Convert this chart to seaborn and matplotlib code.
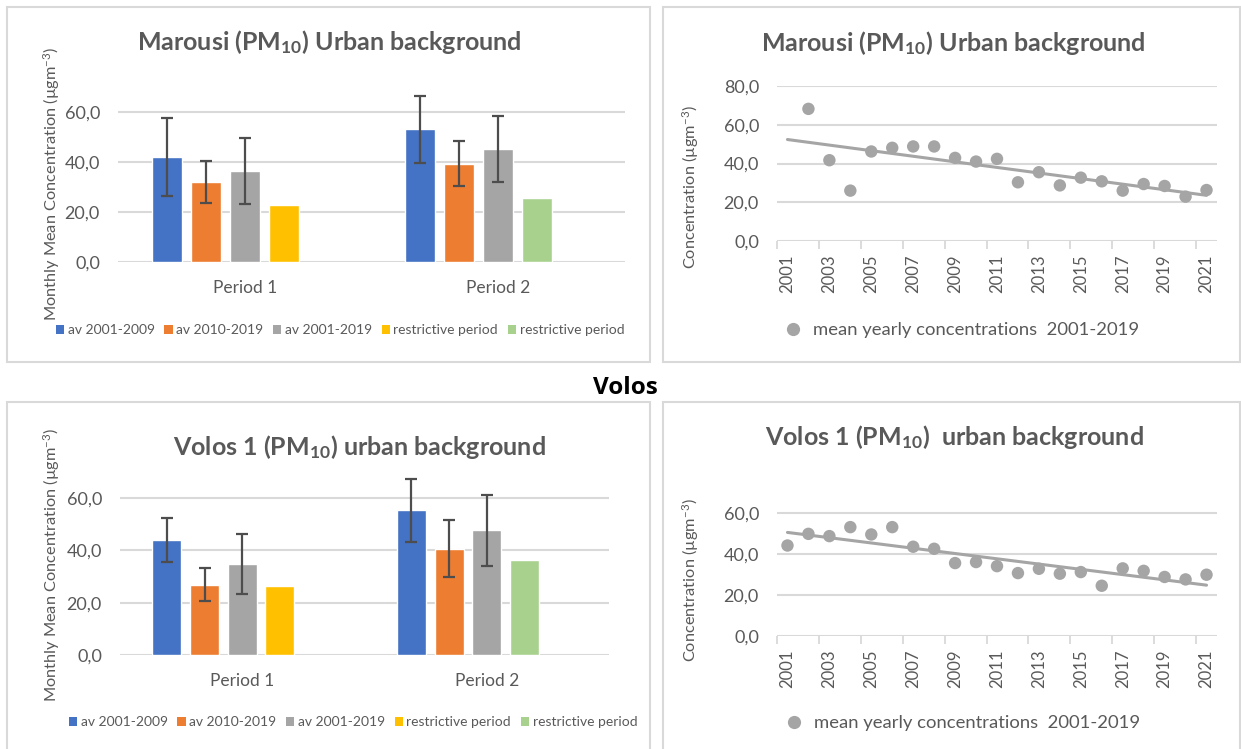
import numpy as np
import pandas as pd
import seaborn as sns
import matplotlib.pyplot as plt
from matplotlib.patches import Rectangle, Patch
from matplotlib.lines import Line2D

# bar charts: monthly means per period
periods = ["Period 1", "Period 2"]
bar_series = ["av 2001-2009", "av 2010-2019", "av 2001-2019", "restrictive period"]
legend_labels = ["av 2001-2009", "av 2010-2019", "av 2001-2019", "restrictive period", "restrictive period"]

marousi_p1 = [42.1, 32.1, 36.5, 22.9]
marousi_p2 = [53.1, 39.4, 45.2, 25.8]
marousi_sd_p1 = [15.5, 8.5, 13.1]
marousi_sd_p2 = [13.3, 9.1, 13.1]

volos_p1 = [43.9, 26.9, 34.8, 26.4]
volos_p2 = [55.3, 40.6, 47.7, 36.5]
volos_sd_p1 = [8.5, 6.3, 11.5]
volos_sd_p2 = [12.0, 10.9, 13.6]

# scatter charts: mean yearly concentrations
years = list(range(2001, 2022))
marousi_yearly = [np.nan, 68.2, 41.7, 26.0, 46.2, 48.1, 48.8, 48.8, 42.9, 41.0, 42.4,
                  30.3, 35.5, 28.7, 32.7, 30.8, 26.0, 29.4, 28.4, 22.9, 26.3]
volos_yearly = [44.3, 50.0, 48.9, 53.3, 49.7, 53.3, 43.7, 42.7, 35.7, 36.2, 34.2,
                30.8, 32.9, 30.5, 31.3, 24.6, 33.1, 31.9, 28.9, 27.7, 30.0]

BLUE, ORANGE, GRAY, YELLOW, GREEN = "#4472C4", "#ED7D31", "#A5A5A5", "#FFC000", "#A9D18E"
TEXT, GRID, ERR = "#595959", "#D9D9D9", "#4D4D4D"

sns.set_theme(style="white")
plt.rcParams["font.family"] = ["Lato", "DejaVu Sans"]
plt.rcParams["mathtext.fontset"] = "custom"
plt.rcParams["mathtext.rm"] = "Lato"
plt.rcParams["mathtext.it"] = "Lato:italic"
plt.rcParams["mathtext.bf"] = "Lato:bold"
plt.rcParams["mathtext.default"] = "regular"

W, H = 1241, 749
fig = plt.figure(figsize=(W / 100, H / 100), dpi=100)
fig.patch.set_facecolor("white")


def rect(l, t, r, b):
    return [l / W, 1 - b / H, (r - l) / W, (b - t) / H]


def ftext(x, y, s, **kw):
    fig.text(x / W, 1 - y / H, s, ha="center", va="center", **kw)


def fmt(v):
    return f"{v:.1f}".replace(".", ",")


# panel frames
for l, t, r, b in [(7, 7, 650, 362), (663, 7, 1240, 362), (7, 402, 650, 770), (663, 402, 1240, 770)]:
    fig.add_artist(Rectangle((l / W, 1 - b / H), (r - l) / W, (b - t) / H, transform=fig.transFigure,
                             fill=False, edgecolor=GRID, lw=1.5))


def bar_panel(box, title, title_xy, ylab_xy, leg_xy, p1, p2, sd1, sd2):
    ax = fig.add_axes(rect(*box))
    df = pd.DataFrame({"period": [periods[0]] * 4 + [periods[1]] * 4,
                       "series": bar_series * 2,
                       "value": p1 + p2})
    sns.barplot(data=df, x="period", y="value", hue="series", hue_order=bar_series + ["gap"],
                palette=[BLUE, ORANGE, GRAY, YELLOW, "white"], width=0.77, gap=0.23,
                saturation=1, errorbar=None, legend=False, ax=ax)
    # second restrictive period is drawn green
    restr = sorted(ax.containers[3], key=lambda p: p.get_x())
    restr[1].set_facecolor(GREEN)
    for i in range(3):
        for j, bar in enumerate(sorted(ax.containers[i], key=lambda p: p.get_x())):
            sd = [sd1, sd2][j][i]
            ax.errorbar(bar.get_x() + bar.get_width() / 2, bar.get_height(), yerr=sd, fmt="none",
                        ecolor=ERR, elinewidth=1.6, capsize=4.5, capthick=1.6, zorder=4)
    ax.set_xlim(-0.5, 1.5)
    ax.set_ylim(0, 70)
    ax.set_yticks([0, 20, 40, 60])
    ax.set_yticklabels([fmt(v) for v in [0, 20, 40, 60]])
    ax.yaxis.grid(True, color=GRID, lw=1.5)
    ax.set_axisbelow(True)
    sns.despine(ax=ax, left=True, bottom=True)
    ax.tick_params(axis="y", length=0, labelsize=13, labelcolor=TEXT, pad=13)
    ax.tick_params(axis="x", length=0, labelsize=12.5, labelcolor=TEXT, pad=13)
    ax.set_xlabel("")
    ax.set_ylabel("")
    ftext(*title_xy, title, fontsize=18, fontweight="bold", color=TEXT)
    ftext(*ylab_xy, "Monthly Mean Concentration (µgm$^{-3}$)", fontsize=11.8, color=TEXT, rotation=90)
    handles = [Patch(facecolor=c, edgecolor="none") for c in [BLUE, ORANGE, GRAY, YELLOW, GREEN]]
    fig.legend(handles, legend_labels, loc="center", bbox_to_anchor=(leg_xy[0] / W, 1 - leg_xy[1] / H),
               ncol=5, frameon=False, fontsize=10, labelcolor=TEXT, handlelength=0.6, handleheight=0.6,
               handletextpad=0.25, columnspacing=0.7)
    return ax


def trend_panel(box, ymax, yticks, title, title_xy, ylab_xy, leg_xy, values):
    ax = fig.add_axes(rect(*box))
    df = pd.DataFrame({"year": years, "value": values})
    valid = df.dropna()
    slope, icpt = np.polyfit(valid["year"], valid["value"], 1)
    trend = pd.DataFrame({"year": years, "value": icpt + slope * np.array(years)})
    sns.lineplot(data=trend, x="year", y="value", color=GRAY, lw=2.2, ax=ax, zorder=2)
    sns.scatterplot(data=df, x="year", y="value", color=GRAY, s=80, edgecolor="none", ax=ax, zorder=3)
    ax.set_xlim(2000.5, 2021.5)
    ax.set_ylim(0, ymax)
    ax.set_yticks(yticks)
    ax.set_yticklabels([fmt(v) for v in yticks])
    ax.set_xticks(years[::2])
    ax.set_xticklabels([str(y) for y in years[::2]], rotation=90)
    ax.set_xticks([2000.5 + 2 * k for k in range(11)], minor=True)
    ax.yaxis.grid(True, color=GRID, lw=1.5)
    ax.set_axisbelow(True)
    sns.despine(ax=ax, left=True, bottom=True)
    ax.tick_params(axis="y", length=0, labelsize=13, labelcolor=TEXT, pad=13)
    ax.tick_params(axis="x", which="major", length=0, labelsize=12, labelcolor=TEXT, pad=10)
    ax.tick_params(axis="x", which="minor", length=6, width=1.3, color=GRID, direction="out", bottom=True)
    ax.set_xlabel("")
    ax.set_ylabel("")
    ftext(*title_xy, title, fontsize=18, fontweight="bold", color=TEXT)
    ftext(*ylab_xy, "Concentration (µgm$^{-3}$)", fontsize=11.8, color=TEXT, rotation=90)
    handle = Line2D([], [], marker="o", ls="none", color=GRAY, markersize=9.5, markeredgewidth=0)
    fig.legend([handle], ["mean yearly concentrations  2001-2019"], loc="center",
               bbox_to_anchor=(leg_xy[0] / W, 1 - leg_xy[1] / H), frameon=False, fontsize=13.3,
               labelcolor=TEXT, handletextpad=0.05)
    return ax


bar_panel((118, 87, 625, 262), r"Marousi (PM$_{\mathbf{10}}$) Urban background", (329, 42), (52, 184), (340, 330),
          marousi_p1, marousi_p2, marousi_sd_p1, marousi_sd_p2)
bar_panel((120, 472, 609, 655), r"Volos 1 (PM$_{\mathbf{10}}$) urban background", (359, 447), (52, 565), (353, 722),
          volos_p1, volos_p2, volos_sd_p1, volos_sd_p2)

trend_panel((777, 86, 1217, 241), 80, [0, 20, 40, 60, 80], r"Marousi (PM$_{\mathbf{10}}$) Urban background",
            (953, 43), (691, 187), (957, 330), marousi_yearly)
trend_panel((777, 493, 1217, 636), 70, [0, 20, 40, 60], r"Volos 1 (PM$_{\mathbf{10}}$)  urban background",
            (954, 437), (691, 580), (958, 723), volos_yearly)

ftext(625, 388, "Volos", fontsize=17.5, fontweight="bold", color="black", family=["Open Sans", "DejaVu Sans"])

fig.savefig("out.png", dpi=100)
